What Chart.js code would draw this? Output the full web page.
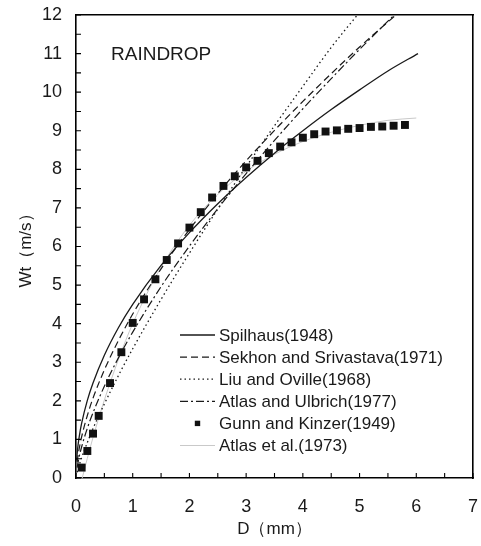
<!DOCTYPE html>
<html>
<head>
<meta charset="utf-8">
<script src="https://cdn.jsdelivr.net/npm/chart.js@4.4.0/dist/chart.umd.min.js"></script>
<style>
  html, body { margin: 0; padding: 0; background: #fff; overflow: hidden; }
  #chart { display: block; }
</style>
</head>
<body>
<canvas id="chart" width="481" height="546"></canvas>
<script>
// values: D in mm, Wt in m/s
const spilhausD = [0.01, 0.03, 0.06, 0.1, 0.2, 0.3, 0.5, 0.75, 1, 1.5, 2, 2.5, 3, 3.5, 4, 4.5, 5, 5.5, 6.03];
const spilhausW = [0.45, 0.78, 1.1, 1.42, 2.01, 2.46, 3.18, 3.9, 4.5, 5.51, 6.36, 7.11, 7.79, 8.42, 9.0, 9.55, 10.06, 10.55, 11.0];

const sekhonD = [0.02, 0.05, 0.1, 0.2, 0.3, 0.5, 0.75, 1, 1.5, 2, 2.5, 3, 3.5, 4, 4.5, 5, 5.5, 5.68];
const sekhonW = [0.41, 0.71, 1.07, 1.62, 2.07, 2.8, 3.57, 4.25, 5.42, 6.44, 7.37, 8.22, 9.01, 9.76, 10.48, 11.17, 11.82, 12.05];

const liuD = [0.02, 0.05, 0.1, 0.2, 0.3, 0.5, 0.75, 1, 1.5, 2, 2.5, 3, 3.5, 4, 4.5, 4.96];
const liuW = [0.15, 0.3, 0.53, 0.92, 1.28, 1.92, 2.66, 3.35, 4.63, 5.83, 6.97, 8.07, 9.13, 10.15, 11.16, 12.0];

const ulbrichD = [0.02, 0.05, 0.1, 0.2, 0.3, 0.5, 0.75, 1, 1.5, 2, 2.5, 3, 3.5, 4, 4.5, 5, 5.5, 5.61];
const ulbrichW = [0.27, 0.51, 0.81, 1.29, 1.69, 2.38, 3.12, 3.78, 4.96, 6.01, 6.98, 7.89, 8.75, 9.57, 10.35, 11.11, 11.84, 12.0];

const gunnD = [0.1, 0.2, 0.3, 0.4, 0.6, 0.8, 1.0, 1.2, 1.4, 1.6, 1.8, 2.0, 2.2, 2.4, 2.6, 2.8, 3.0, 3.2, 3.4, 3.6, 3.8, 4.0, 4.2, 4.4, 4.6, 4.8, 5.0, 5.2, 5.4, 5.6, 5.8];
const gunnW = [0.27, 0.7, 1.15, 1.61, 2.46, 3.26, 4.02, 4.63, 5.15, 5.65, 6.08, 6.49, 6.89, 7.27, 7.57, 7.82, 8.05, 8.22, 8.42, 8.59, 8.7, 8.82, 8.91, 8.98, 9.01, 9.05, 9.07, 9.1, 9.11, 9.13, 9.15];

const atlasD = [0.11, 0.2, 0.3, 0.5, 0.75, 1, 1.5, 2, 2.5, 3, 3.5, 4, 4.5, 5, 5.5, 6.0];
const atlasW = [0, 0.51, 1.05, 2.02, 3.08, 4.0, 5.46, 6.55, 7.35, 7.95, 8.39, 8.72, 8.96, 9.14, 9.27, 9.33];

const xTicks = [0, 1, 2, 3, 4, 5, 6, 7];
const yTicks = [0, 1, 2, 3, 4, 5, 6, 7, 8, 9, 10, 11, 12];

const FONT = "'Liberation Sans', Arial, sans-serif";
const INK = "#1a1a1a";

const pts = (xs, ys) => xs.map((x, i) => ({ x: x, y: ys[i] }));

const lineSet = (label, xs, ys, dash, color, width) => ({
	label: label,
	data: pts(xs, ys),
	showLine: true,
	borderColor: color,
	borderWidth: width,
	borderDash: dash,
	pointRadius: 0,
	fill: false,
	cubicInterpolationMode: "monotone",
	order: 1,
});

const datasets = [
	lineSet("Spilhaus(1948)", spilhausD, spilhausW, [], INK, 1.3),
	lineSet("Sekhon and Srivastava(1971)", sekhonD, sekhonW, [7, 4], INK, 1.2),
	lineSet("Liu and Oville(1968)", liuD, liuW, [1.5, 3], INK, 1.3),
	lineSet("Atlas and Ulbrich(1977)", ulbrichD, ulbrichW, [8, 3, 2, 3], INK, 1.2),
	{
		label: "Gunn and Kinzer(1949)",
		data: pts(gunnD, gunnW),
		showLine: false,
		pointStyle: "rect",
		pointRadius: 5.6,
		backgroundColor: "#111",
		borderColor: "#111",
		borderWidth: 0,
		order: 0,
	},
	lineSet("Atlas et al.(1973)", atlasD, atlasW, [], "#c9c9c9", 1),
];

//* inward ticks and the panel label, placed from the scales
const framePlugin = {
	id: "frame",
	afterDraw(chart) {
		const { ctx, scales } = chart;
		const x = scales.x, y = scales.y;
		const L = x.getPixelForValue(xTicks[0]);
		const B = y.getPixelForValue(yTicks[0]);
		const T = y.getPixelForValue(yTicks[yTicks.length - 1]);
		ctx.save();
		ctx.setLineDash([]);
		ctx.strokeStyle = "#000";
		ctx.lineWidth = 1.1;
		ctx.beginPath();
		for (let v = 0; v <= 7; v += 0.5) {
			const px = x.getPixelForValue(v);
			ctx.moveTo(px, B);
			ctx.lineTo(px, B - 5);
		}
		for (let v = 0; v <= 12; v += 0.5) {
			const py = y.getPixelForValue(v);
			ctx.moveTo(L, py);
			ctx.lineTo(L + 5, py);
		}
		ctx.stroke();
		ctx.fillStyle = INK;
		ctx.font = "19px " + FONT;
		ctx.textBaseline = "middle";
		ctx.textAlign = "left";
		ctx.fillText("RAINDROP", L + 35, T + 40);
		ctx.restore();
	},
};

//* legend drawn inside the plot, lower right
const legendPlugin = {
	id: "insideLegend",
	afterDraw(chart) {
		const { ctx, chartArea: a } = chart;
		const x0 = a.left + 104;
		const x1 = a.left + 139;
		const tx = a.left + 143;
		let y = a.top + 320;
		ctx.save();
		ctx.font = "17px " + FONT;
		ctx.textBaseline = "middle";
		ctx.textAlign = "left";
		chart.data.datasets.forEach((ds) => {
			if (ds.showLine) {
				ctx.strokeStyle = ds.borderColor;
				ctx.lineWidth = ds.borderWidth;
				ctx.setLineDash(ds.borderDash);
				ctx.beginPath();
				ctx.moveTo(x0, y);
				ctx.lineTo(x1, y);
				ctx.stroke();
				ctx.setLineDash([]);
			} else {
				ctx.fillStyle = ds.backgroundColor;
				ctx.fillRect((x0 + x1) / 2 - 2.7, y - 2.7, 5.4, 5.4);
			}
			ctx.fillStyle = INK;
			ctx.fillText(ds.label, tx, y + 1);
			y += 22.1;
		});
		ctx.restore();
	},
};

// bare axes on top and right only carry the frame line
const frameAxis = (axis, position, min, max) => ({
	type: "linear",
	axis: axis,
	position: position,
	min: min,
	max: max,
	afterFit: (s) => {
		if (axis === "x") s.height = 0; else s.width = 0;
		s.paddingLeft = 0; s.paddingRight = 0; s.paddingTop = 0; s.paddingBottom = 0;
	},
	grid: { display: false, drawTicks: false },
	ticks: { display: false },
	border: { display: true, color: "#000", width: 1.6 },
});

new Chart(document.getElementById("chart"), {
	type: "scatter",
	data: { datasets: datasets },
	options: {
		responsive: false,
		animation: false,
		layout: { padding: { top: 15, right: 8, left: 0, bottom: 0 } },
		plugins: { legend: { display: false }, tooltip: { enabled: false } },
		scales: {
			x: {
				type: "linear",
				position: "bottom",
				min: xTicks[0],
				max: xTicks[xTicks.length - 1],
				afterBuildTicks: (s) => { s.ticks = xTicks.map((v) => ({ value: v })); },
				afterFit: (s) => { s.height = 68; s.paddingLeft = 0; s.paddingRight = 0; },
				grid: { display: false, drawTicks: false },
				border: { display: true, color: "#000", width: 1.6 },
				ticks: { color: INK, font: { family: FONT, size: 18 }, padding: 18, maxRotation: 0 },
				title: { display: true, text: "D（mm）", color: INK, font: { family: FONT, size: 17 }, padding: { top: 0, bottom: 6 } },
			},
			y: {
				type: "linear",
				position: "left",
				min: yTicks[0],
				max: yTicks[yTicks.length - 1],
				afterBuildTicks: (s) => { s.ticks = yTicks.map((v) => ({ value: v })); },
				afterFit: (s) => { s.width = 76; s.paddingTop = 0; s.paddingBottom = 0; },
				grid: { display: false, drawTicks: false },
				border: { display: true, color: "#000", width: 1.6 },
				ticks: { color: INK, font: { family: FONT, size: 18 }, padding: 14 },
				title: { display: true, text: "Wt（m/s）", color: INK, font: { family: FONT, size: 17 }, padding: { top: 16, bottom: 0 } },
			},
			xTop: frameAxis("x", "top", xTicks[0], xTicks[xTicks.length - 1]),
			yRight: frameAxis("y", "right", yTicks[0], yTicks[yTicks.length - 1]),
		},
	},
	plugins: [framePlugin, legendPlugin],
});
</script>
</body>
</html>
